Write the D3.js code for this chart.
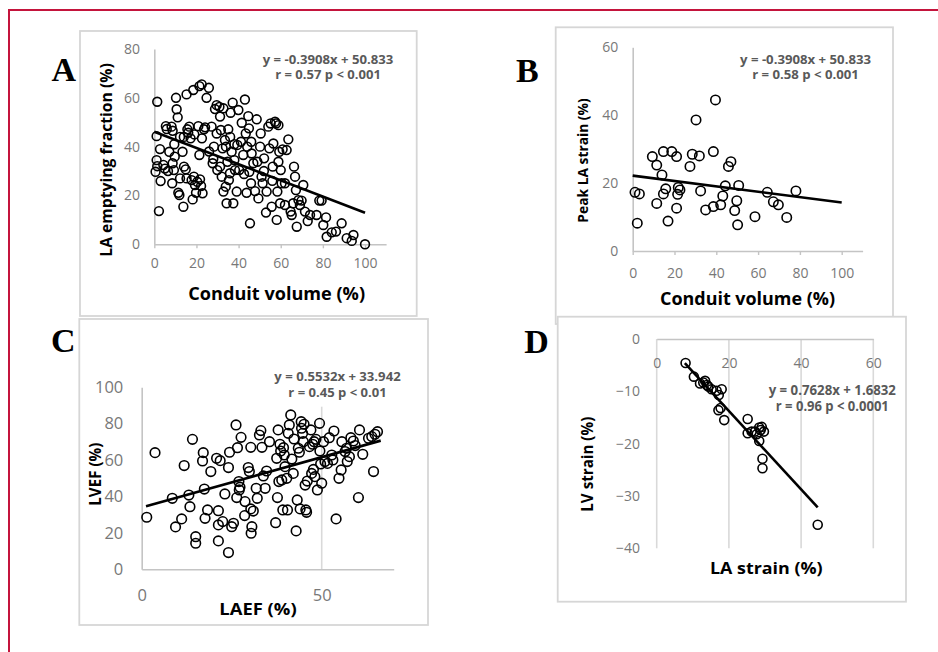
<!DOCTYPE html>
<html>
<head>
<meta charset="utf-8">
<script src="https://cdn.jsdelivr.net/npm/d3@7"></script>
<style>
body { margin: 0; background: #fff; }
svg { display: block; font-family: "Open Sans", sans-serif; }
</style>
</head>
<body>
<svg id="fig" width="938" height="652"></svg>
<script>
//----- data

// A: LA emptying fraction vs conduit volume
var ptsA = [
  [1.4,58.4],[1.1,44.3],[2.7,39],[1.1,34.5],[1.4,32],[0.6,29.7],[3,25.9],[2.2,13.6],[4.3,32.5],[5.5,48.4],
  [5.9,47.2],[7.1,37.9],[8.2,48.2],[8.7,46.5],[8.7,33.2],[8.5,25],[9.5,41],[9.7,35.9],[9.3,30.4],[10.6,55.3],
  [10.3,60],[11.1,52],[11.4,21.1],[11.9,20.2],[12.2,27],[12.2,44],[5,31],[6.5,30],
  [13.4,37.9],[13.8,15.4],[14.1,31.8],[14.9,30.7],[15.3,61.4],[15.3,27],[15.7,47.1],[16.1,45.7],[16.6,48.2],[17.2,43.4],
  [17.7,26.3],[18.2,18.4],[18.5,63.2],[18.8,27.7],[19.3,24.3],[19.8,21.1],[20.4,25.6],[20.9,48.4],[21.4,64.8],[21.4,36.6],
  [21.7,26.6],[22.2,23.9],[22.5,65.5],[22.6,43.4],[22.9,20.9],[23.6,47.1],[24.1,47.9],[24.8,60],[25.9,64.1],[14,44],[19,45],
  [27.2,48.2],[27.7,33.2],[28.3,40],[28.8,55.4],[29.6,57],[29.6,45.4],[29.9,30.4],[30.9,56.3],[31.2,52.3],[31.2,31.8],
  [31.6,46.8],[32,27.7],[32.4,39.3],[32.8,55.7],[32.8,21.6],[33.5,42.7],[33.9,23.6],[34.3,16.8],[34.7,33.8],[35.1,47.1],
  [35.4,26.3],[35.9,29.1],[36.2,53.9],[36.7,37.9],[37.2,58],[37.5,16.8],[38,34.5],[38.3,30.4],[39.1,21.6],[39.4,40.7],
  [39.9,55],[26,38],[28,35],[34,40],[36,44],[38,41],
  [40.3,30.4],[41.1,42],[41.5,49.8],[42.2,36.6],[42.6,28.8],[43,59.3],[43.4,45.4],[43.8,21.1],[44.1,40],[44.6,52.5],
  [44.9,47.5],[45.1,29.7],[45.4,8.6],[45.9,25],[46.2,37.2],[47,33.2],[47.8,21.8],[48.6,51.2],[48.9,33.8],[49.4,18.8],
  [50.2,40],[50.5,45.4],[50.9,27.7],[51.4,25],[52.1,35.2],[53,13],[53.3,21.6],[54.1,48.2],[54.6,39.3],[46,42],[52,30],
  [55.2,49.5],[55.7,15.4],[56.2,31.8],[56.5,41.3],[57.3,50.2],[57.8,49.5],[58.1,10],[58.4,21.6],[58.9,48.8],[58.9,33.8],
  [59.3,37.9],[59.7,16.8],[60,30.4],[60.4,25],[60.9,38.9],[62,16.1],[62.8,38.6],[63.6,43],[64.7,13.4],[65.2,12],
  [65.9,16.8],[66.3,31.8],[66.8,27.7],[67.2,22.2],[67.6,7.2],[68.4,18.1],[69.1,16.1],[69.9,17.9],[56,26],[62,25],
  [70.7,24.3],[71.5,13.4],[72.8,9.5],[73.9,12],[77,12],[78.3,17.9],[79.4,17.9],[80.2,7.9],[81.5,11],[81.8,3.1],
  [84.2,4.9],[86.2,5.2],[88.9,8.6],[91.3,2.5],[93.7,1.4],[94.5,3.8],[100,0]
];
var trendA = [[0, 46.1], [100, 12.9]];
var ticksAx = [0, 20, 40, 60, 80, 100];
var ticksAy = [0, 20, 40, 60, 80];
var eqA = ["y = -0.3908x + 50.833", "r = 0.57 p < 0.001"];

// B: peak LA strain vs conduit volume
var ptsB = [
  [1.1,17.3],[3.2,16.8],[2.2,8.2],[9.4,27.8],[11.5,25.3],[11.5,14],[14,22.4],[14.7,29.3],[14.7,16.8],[15.8,18.3],
  [16.9,8.8],[18.7,29.3],[21,27.8],[21,12.6],[21.5,16.7],[21.8,18.7],[22.6,18],[27.4,24.9],[28.5,28.5],[30.3,38.6],
  [31.9,28],[32.5,17.7],[34.9,12.1],[38.6,29.3],[38.6,13.1],[39.6,44.5],[42.1,13.6],[43.1,16.2],[44.3,19.2],[45.8,24.9],
  [47,26.3],[48.8,11.9],[49.8,14.8],[50.2,7.7],[50.7,19.3],[58.5,10.1],[64.4,17.3],[67.3,14.5],[69.7,13.6],[73.7,9.9],
  [78.1,17.7]
];
var trendB = [[0, 22.2], [100, 14.3]];
var ticksBx = [0, 20, 40, 60, 80, 100];
var ticksBy = [0, 20, 40, 60];
var eqB = ["y = -0.3908x + 50.833", "r = 0.58 p < 0.001"];

// C: LVEF vs LAEF
var ptsC = [
  [1.4,28.6],[3.7,64.1],[8.5,39],[9.4,23.3],[11.1,27.7],[11.8,57],[13.1,40.8],[13.4,34.4],[14.1,71.4],[15,17.9],
  [15,14.3],[16.9,59.5],[17.1,64.1],[17.4,44.1],[17.6,28],[18.3,32.6],[19.2,53.7],[20.8,61],[21.3,32.2],[21.3,24.4],
  [21.3,15.6],[21.8,59.7],[22.5,26.2],[23.1,41.4],[24.1,55.9],[24.1,9.2],[24.4,64.3],[25,23.4],[25.5,25.3],[26.2,79.3],
  [26.4,39.4],[26.6,66.8],[27,48.2],[27.1,43.6],[27.3,45.1],[27.6,72.5],[28.6,29.5],[28.7,37.2],[29.6,55.9],[29.9,53.7],
  [30.3,67],[30.3,33.2],[30.6,23.4],[30.4,19.8],[31,32],[31.8,44.5],[32.1,39],[32.7,73.8],[33.1,76.2],[33.4,67],
  [33.8,51.3],[34.3,44.5],[34.7,54],[35.5,70.1],[37.2,25.6],[37.5,61],[37.7,39.4],[37.9,76.6],[38.1,48.2],[38.4,68.7],
  [38.6,65],[38.9,49.1],[39.2,32.6],[39.4,66.8],[39.6,62.8],[39.8,56.4],[40.3,50],[40.5,32.6],[40.7,74.7],[41,79.3],
  [41.4,84.8],[41.7,60.6],[42.1,52.7],[42.3,71.6],[42.9,21.1],[43.2,38.1],[43.5,66.5],[43.8,64.3],[44,33.2],[44.3,81.1],
  [44.4,77.5],[44.7,74.7],[44.9,70.1],[45.1,79.7],[45.4,46.3],[45.6,32.6],[45.8,31.3],[46,48.5],[46.6,67.4],[47,76.6],
  [47.2,52.7],[47.5,68.7],[47.7,54.9],[47.9,70.1],[48.1,50.9],[48.4,71.4],[48.8,43.6],[49.4,80.2],[49.5,65],[49.7,57.9],
  [50,47.3],[50.5,70.1],[50.9,59.2],[51.6,58.2],[52.1,72.3],[52.8,62.8],[53.1,60.1],[53.4,76],[54,27.7],[54.8,50],
  [55.4,54.6],[55.6,70.1],[56.5,64.7],[56.9,66.5],[57.1,59.2],[57.7,61.9],[58.1,72.3],[58.8,70.5],[59.3,68],[60.2,39.4],
  [60.5,76.6],[61.4,63.2],[63,72],[63.9,72.9],[64.4,53.7],[64.8,74.2],[65.5,75.6]
];
var trendC = [[1.2, 34.6], [66.4, 70.7]];
var ticksCx = [0, 50];
var ticksCy = [0, 20, 40, 60, 80, 100];
var eqC = ["y = 0.5532x + 33.942", "r = 0.45 p < 0.01"];

// D: LV strain vs LA strain
var ptsD = [
  [8,-4.6],[10.3,-7.2],[12,-8.5],[12.9,-8.3],[13.4,-8],[13.9,-8.8],[14.3,-9.1],[15.2,-9.6],[16.6,-9.9],[17.2,-10.7],
  [18,-9.6],[17.1,-13.6],[17.7,-13.2],[18.7,-15.5],[25.2,-15.3],[25.2,-18],[26.3,-17.7],[27.2,-17.7],[27.7,-18.2],[28.4,-16.9],
  [28.8,-17.4],[29.1,-16.8],[29.7,-17.7],[28.4,-19.5],[29.3,-22.9],[29.3,-24.7],[44.6,-35.5]
];
var trendD = [[7.8, -4.6], [44.6, -32.2]];
var ticksDx = [0, 20, 40, 60];
var ticksDy = [0, -10, -20, -30, -40];
var eqD = ["y = 0.7628x + 1.6832", "r = 0.96 p < 0.0001"];

//----- drawing

var svg = d3.select("#fig");
var boxGrey = "#d6d6d6";
var axisGrey = "#c4c4c4";
var tickGrey = "#787878";
var eqGrey = "#595959";

// outer red frame (open at right and bottom)
svg.append("path")
  .attr("d", "M9,652 V10 H938")
  .attr("fill", "none")
  .attr("stroke", "#c4143c")
  .attr("stroke-width", 2);

function drawPanel(p) {
  var g = svg.append("g");

  g.append("rect")
    .attr("x", p.box[0]).attr("y", p.box[1])
    .attr("width", p.box[2] - p.box[0]).attr("height", p.box[3] - p.box[1])
    .attr("fill", "#fff")
    .attr("stroke", boxGrey)
    .attr("stroke-width", 1.8);

  var x = d3.scaleLinear().domain(p.xDomain).range(p.xRange);
  var y = d3.scaleLinear().domain(p.yDomain).range(p.yRange);

  // vertical gridlines
  if (p.grid) {
    g.selectAll("line.grid")
      .data(p.grid)
      .enter()
      .append("line")
      .attr("x1", function(d) { return x(d); })
      .attr("x2", function(d) { return x(d); })
      .attr("y1", y(p.gridFrom))
      .attr("y2", y(p.gridTo))
      .attr("stroke", "#d9d9d9")
      .attr("stroke-width", 1.6);
  }

  // equation label (Excel data label, white box for C)
  if (p.eqBg) {
    g.append("rect")
      .attr("x", p.eqBg[0]).attr("y", p.eqBg[1])
      .attr("width", p.eqBg[2]).attr("height", p.eqBg[3])
      .attr("fill", "#fff");
  }

  var xAxis = d3.axisBottom(x).tickValues(p.xTicks).tickSize(p.xTickSize).tickSizeOuter(0);
  var gx = g.append("g")
    .attr("transform", "translate(0," + y(p.xAxisAt) + ")")
    .call(xAxis);
  gx.selectAll(".tick text")
    .attr("y", p.xLabelOff)
    .attr("dy", "0.36em");

  var yAxis = d3.axisLeft(y).tickValues(p.yTicks).tickSize(0).tickPadding(p.yLabelGap).tickSizeOuter(0);
  var gy = g.append("g")
    .attr("transform", "translate(" + x(p.yAxisAt) + ",0)")
    .call(yAxis);
  if (!p.yDomainLine) gy.select(".domain").remove();

  [gx, gy].forEach(function(a) {
    a.attr("font-family", null).attr("font-size", null);
    a.select(".domain").attr("stroke", axisGrey).attr("stroke-width", 1.6);
    a.selectAll(".tick line").attr("stroke", axisGrey).attr("stroke-width", 1.4);
    a.selectAll(".tick text")
      .attr("fill", tickGrey)
      .style("font-family", "'Open Sans', sans-serif")
      .style("font-size", p.tickFont + "px");
  });

  // trendline
  var line = d3.line()
    .x(function(d) { return x(d[0]); })
    .y(function(d) { return y(d[1]); });
  g.append("path")
    .datum(p.trend)
    .attr("d", line)
    .attr("fill", "none")
    .attr("stroke", "#000")
    .attr("stroke-width", 2.6);

  // markers
  g.selectAll("circle")
    .data(p.pts)
    .enter()
    .append("circle")
    .attr("cx", function(d) { return x(d[0]); })
    .attr("cy", function(d) { return y(d[1]); })
    .attr("r", p.r)
    .attr("fill", "none")
    .attr("stroke", "#000")
    .attr("stroke-width", 1.6);

  // equation text, one text element with a line per tspan
  g.append("text")
    .attr("text-anchor", "middle")
    .attr("fill", eqGrey)
    .style("font-weight", "bold")
    .style("font-size", p.eqFont + "px")
    .selectAll("tspan")
    .data(p.eq)
    .enter()
    .append("tspan")
    .attr("x", p.eqPos[0])
    .attr("y", function(d, i) { return p.eqPos[1] + i * p.eqStep; })
    .attr("textLength", function(d, i) { return p.eqLen[i]; })
    .attr("lengthAdjust", "spacingAndGlyphs")
    .text(function(d) { return d; });

  // axis titles
  g.append("text")
    .attr("x", p.xTitle[0]).attr("y", p.xTitle[1])
    .attr("text-anchor", "middle")
    .attr("textLength", p.xTitle[2])
    .attr("lengthAdjust", "spacingAndGlyphs")
    .style("font-weight", "bold")
    .style("font-size", p.xTitle[3] + "px")
    .text(p.xTitle[4]);

  g.append("text")
    .attr("transform", "translate(" + p.yTitle[0] + "," + p.yTitle[1] + ") rotate(-90)")
    .attr("text-anchor", "middle")
    .attr("textLength", p.yTitle[2])
    .attr("lengthAdjust", "spacingAndGlyphs")
    .style("font-weight", "bold")
    .style("font-size", p.yTitle[3] + "px")
    .text(p.yTitle[4]);

  // panel letter
  g.append("text")
    .attr("x", p.letter[0]).attr("y", p.letter[1])
    .style("font-family", "'Liberation Serif', 'Times New Roman', serif")
    .style("font-weight", "bold")
    .style("font-size", "34px")
    .text(p.letter[2]);
}

drawPanel({
  box: [80, 31, 416.7, 316],
  xDomain: [0, 110], xRange: [154.3, 386.1],
  yDomain: [0, 80], yRange: [244.3, 49],
  xTicks: ticksAx, yTicks: ticksAy,
  xAxisAt: 0, yAxisAt: 0, yDomainLine: true,
  xTickSize: 4, xLabelOff: 19, yLabelGap: 14.3, tickFont: 14,
  pts: ptsA, r: 4.4, trend: trendA,
  eq: eqA, eqPos: [328, 64], eqStep: 15, eqLen: [130.6, 105.7], eqFont: 12.5,
  xTitle: [276.7, 300, 176.7, 17.5, "Conduit volume (%)"],
  yTitle: [111.5, 160, 193.4, 16, "LA emptying fraction (%)"],
  letter: [51.5, 80.7, "A"]
});

drawPanel({
  box: [555.7, 27.3, 893, 324],
  xDomain: [0, 110], xRange: [632.7, 862.6],
  yDomain: [0, 60], yRange: [251, 47.3],
  xTicks: ticksBx, yTicks: ticksBy,
  xAxisAt: 0, yAxisAt: 0, yDomainLine: true,
  xTickSize: 4, xLabelOff: 21.7, yLabelGap: 14.4, tickFont: 14,
  pts: ptsB, r: 4.7, trend: trendB,
  eq: eqB, eqPos: [805.5, 64.3], eqStep: 15, eqLen: [131, 106.7], eqFont: 12.5,
  xTitle: [747.5, 305, 175, 17.5, "Conduit volume (%)"],
  yTitle: [587.5, 160.5, 124.3, 14.5, "Peak LA strain (%)"],
  letter: [516, 81.7, "B"]
});

drawPanel({
  box: [79.3, 319, 428, 625],
  xDomain: [0, 70], xRange: [141.7, 393.7],
  yDomain: [0, 100], yRange: [569.3, 387.3],
  xTicks: ticksCx, yTicks: ticksCy,
  xAxisAt: 0, yAxisAt: 0, yDomainLine: true,
  grid: [50], gridFrom: 0, gridTo: 100,
  eqBg: [268, 362, 140, 44.7],
  xTickSize: 0, xLabelOff: 25.7, yLabelGap: 18.4, tickFont: 16.5,
  pts: ptsC, r: 4.8, trend: trendC,
  eq: eqC, eqPos: [337.5, 381], eqStep: 15.7, eqLen: [126.3, 98.3], eqFont: 13,
  xTitle: [258, 615, 77.3, 16.5, "LAEF (%)"],
  yTitle: [101, 474.2, 63, 16, "LVEF (%)"],
  letter: [51, 351.7, "C"]
});

drawPanel({
  box: [557.7, 316.7, 906, 601.7],
  xDomain: [0, 60], xRange: [656.7, 873.3],
  yDomain: [-40, 0], yRange: [548.3, 339],
  xTicks: ticksDx, yTicks: ticksDy,
  xAxisAt: 0, yAxisAt: 0, yDomainLine: false,
  grid: ticksDx, gridFrom: 0, gridTo: -40,
  xTickSize: 0, xLabelOff: 24.3, yLabelGap: 16.7, tickFont: 14,
  pts: ptsD, r: 4.5, trend: trendD,
  eq: eqD, eqPos: [832.3, 395], eqStep: 15.7, eqLen: [127.3, 113], eqFont: 14,
  xTitle: [766.3, 574.3, 112.7, 16.5, "LA strain (%)"],
  yTitle: [593, 464.2, 95, 15.5, "LV strain (%)"],
  letter: [524.3, 353.3, "D"]
});
</script>
</body>
</html>
